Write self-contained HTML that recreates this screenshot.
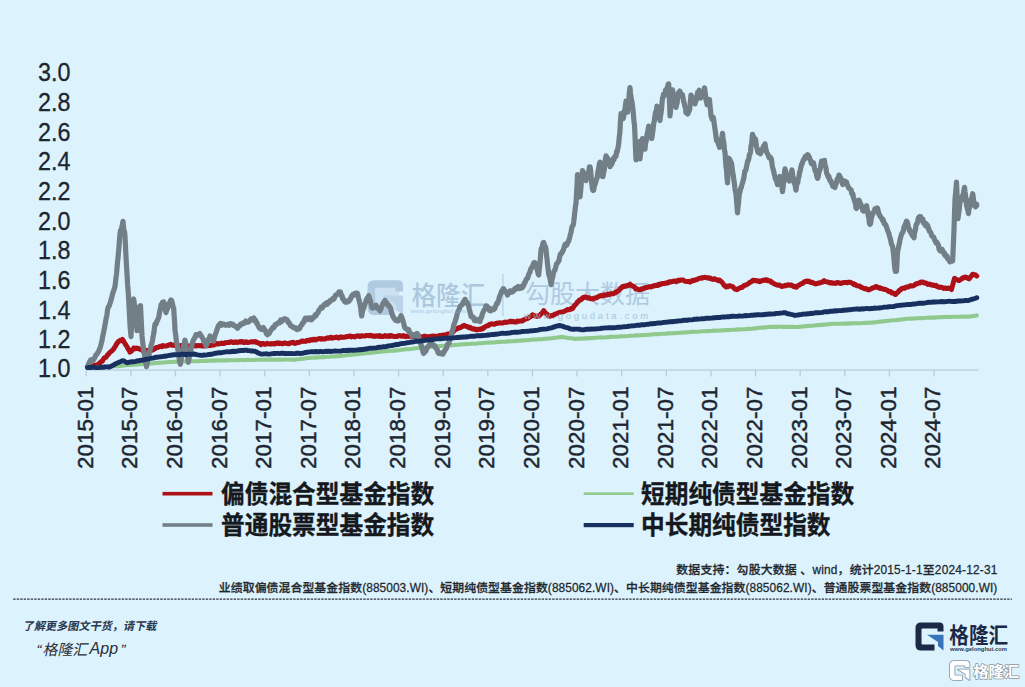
<!DOCTYPE html><html lang="zh"><head><meta charset="utf-8"><title>基金指数走势</title><style>

html,body{margin:0;padding:0}
body{width:1025px;height:687px;position:relative;overflow:hidden;background:#dcf2fd;font-family:"Liberation Sans",sans-serif;color:#1d2530}
#gfx{position:absolute;left:0;top:0;width:1025px;height:687px}
.yl{position:absolute;left:38.0px;width:40px;height:26px;line-height:26px;font-size:25.6px;color:#1d2530;white-space:nowrap;transform-origin:0 50%;transform:scaleX(.91);-webkit-text-stroke:.3px #1d2530}
.xl{position:absolute;top:469.3px;width:100px;height:18px;line-height:18px;font-size:21.6px;color:#1d2530;white-space:nowrap;transform-origin:0 0;transform:rotate(-90deg) scaleX(1.04);-webkit-text-stroke:.45px #1d2530}
.ht{position:absolute;color:transparent;white-space:nowrap;line-height:1.1;overflow:hidden}
.wmt{position:absolute;color:#9fbad3;opacity:.8;white-space:nowrap;line-height:1}
.app{position:absolute;font-size:16px;font-style:italic;color:#2b2f36;line-height:18px;white-space:nowrap}
.url{position:absolute;font-size:5.9px;font-weight:bold;color:#2b3a58;line-height:7px;white-space:nowrap}

</style></head><body>
<svg id="gfx" width="1025" height="687" viewBox="0 0 1025 687">
<g transform="translate(367.5 280.3) scale(1.27 1.24)" opacity="0.8">
<rect x="3" y="3" width="22" height="22" fill="#c9dff0"/>
<path d="M5.5 0 H24 Q28 0 28 4 V9 H22 V6 H7 Q6 6 6 7 V21 Q6 22 7 22 H19 V28 H5.5 Q0 28 0 22.5 V5.5 Q0 0 5.5 0 Z" fill="#a6c1db"/>
<path d="M11.5 12.3 H28 V28 L22.5 23.5 V19.5 Z" fill="#b4cde4"/>
</g>
<text transform="translate(411.5 304.5) scale(1 1.05)" x="0" y="0" font-size="24.6" font-weight="500" fill="#9dbad5" opacity="0.75" font-family="&quot;Liberation Sans&quot;, &quot;Noto Sans CJK SC&quot;, sans-serif">格隆汇</text>
<rect x="502.3" y="274" width="1.2" height="42" fill="#a3bfd8" opacity="0.7"/>
<text x="525" y="302.8" font-size="25" fill="#9dbad5" opacity="0.7" font-family="&quot;Liberation Sans&quot;, &quot;Noto Sans CJK SC&quot;, sans-serif">勾股大数据</text>
<rect x="85.7" y="369.4" width="892.8" height="1.3" fill="#bccdd7"/>
<rect x="85.6" y="370.0" width="1.3" height="6.5" fill="#bccdd7"/>
<rect x="130.2" y="370.0" width="1.3" height="6.5" fill="#bccdd7"/>
<rect x="174.8" y="370.0" width="1.3" height="6.5" fill="#bccdd7"/>
<rect x="219.5" y="370.0" width="1.3" height="6.5" fill="#bccdd7"/>
<rect x="264.1" y="370.0" width="1.3" height="6.5" fill="#bccdd7"/>
<rect x="308.7" y="370.0" width="1.3" height="6.5" fill="#bccdd7"/>
<rect x="353.3" y="370.0" width="1.3" height="6.5" fill="#bccdd7"/>
<rect x="397.9" y="370.0" width="1.3" height="6.5" fill="#bccdd7"/>
<rect x="442.6" y="370.0" width="1.3" height="6.5" fill="#bccdd7"/>
<rect x="487.2" y="370.0" width="1.3" height="6.5" fill="#bccdd7"/>
<rect x="531.8" y="370.0" width="1.3" height="6.5" fill="#bccdd7"/>
<rect x="576.4" y="370.0" width="1.3" height="6.5" fill="#bccdd7"/>
<rect x="621.0" y="370.0" width="1.3" height="6.5" fill="#bccdd7"/>
<rect x="665.7" y="370.0" width="1.3" height="6.5" fill="#bccdd7"/>
<rect x="710.3" y="370.0" width="1.3" height="6.5" fill="#bccdd7"/>
<rect x="754.9" y="370.0" width="1.3" height="6.5" fill="#bccdd7"/>
<rect x="799.5" y="370.0" width="1.3" height="6.5" fill="#bccdd7"/>
<rect x="844.1" y="370.0" width="1.3" height="6.5" fill="#bccdd7"/>
<rect x="888.8" y="370.0" width="1.3" height="6.5" fill="#bccdd7"/>
<rect x="933.4" y="370.0" width="1.3" height="6.5" fill="#bccdd7"/>
<polyline points="87.5,366.6 88.3,367.1 89.2,367.1 90.0,366.4 90.8,366.4 91.7,366.2 92.5,366.3 93.3,366.4 94.2,365.5 95.0,365.1 95.8,365.7 96.7,365.4 97.5,365.6 98.3,364.0 99.2,363.4 100.0,363.0 100.8,361.7 101.7,361.5 102.5,360.9 103.3,359.2 104.2,358.0 105.0,357.6 105.8,357.4 106.7,356.2 107.5,355.0 108.4,354.3 109.3,353.0 110.2,352.2 111.0,351.6 111.9,350.9 112.8,349.8 113.7,348.9 114.5,347.5 115.4,346.3 116.2,344.8 117.0,343.1 117.9,342.5 118.7,341.1 119.5,340.9 120.2,340.2 121.0,340.7 121.7,340.5 122.5,339.5 123.4,340.7 124.2,342.4 125.1,343.7 126.0,345.3 126.8,346.3 127.6,348.0 128.4,349.4 129.2,350.4 130.0,352.1 130.7,351.7 131.5,351.1 132.2,350.1 133.0,349.4 133.7,348.0 134.5,348.1 135.4,348.7 136.2,348.5 137.0,348.1 137.9,348.4 138.7,348.7 139.5,349.2 140.4,349.3 141.2,349.7 142.0,350.1 142.9,350.9 143.7,351.1 144.5,350.9 145.3,351.0 146.1,350.5 146.8,350.3 147.6,351.0 148.4,351.5 149.2,351.3 150.0,351.0 150.8,350.2 151.7,350.0 152.5,350.2 153.3,349.7 154.2,349.0 155.0,348.8 155.8,347.8 156.7,347.4 157.5,347.5 158.4,347.1 159.3,346.7 160.2,346.3 161.1,346.3 162.0,346.7 162.9,345.6 163.8,346.0 164.6,346.1 165.5,346.1 166.4,345.8 167.3,345.7 168.2,345.2 169.1,345.0 170.0,344.7 170.8,344.3 171.7,345.2 172.5,345.3 173.3,345.0 174.2,345.3 175.0,345.5 175.8,345.5 176.7,345.6 177.5,346.0 178.4,346.1 179.3,346.2 180.2,346.0 181.1,345.5 182.0,345.5 182.9,345.5 183.8,345.9 184.6,346.4 185.5,346.5 186.4,346.5 187.3,346.5 188.2,345.9 189.1,346.3 190.0,346.3 190.9,345.7 191.8,345.3 192.6,345.2 193.5,346.0 194.4,345.7 195.2,345.5 196.1,346.0 197.0,345.8 197.9,345.5 198.8,345.4 199.6,345.8 200.5,345.6 201.4,345.6 202.2,346.1 203.1,346.0 204.0,345.8 204.9,345.9 205.8,345.4 206.6,345.7 207.5,345.8 208.4,345.4 209.3,345.1 210.2,345.7 211.1,345.4 212.0,344.8 212.9,344.9 213.8,345.1 214.6,344.2 215.5,343.7 216.4,343.6 217.3,344.1 218.2,343.5 219.1,343.8 220.0,343.7 220.9,343.5 221.8,343.0 222.7,343.6 223.6,343.6 224.5,343.2 225.4,342.6 226.2,342.8 227.1,342.6 228.0,342.6 228.9,342.3 229.8,342.4 230.7,341.8 231.6,341.7 232.5,342.4 233.4,342.5 234.3,342.0 235.2,342.4 236.1,341.9 237.0,342.5 237.9,342.4 238.8,342.1 239.7,341.7 240.6,341.4 241.5,342.2 242.4,341.6 243.3,342.2 244.2,342.6 245.1,342.3 246.0,341.7 246.9,342.3 247.8,342.6 248.7,342.4 249.6,342.2 250.5,341.9 251.4,341.8 252.3,341.6 253.2,342.1 254.1,341.9 255.0,341.6 255.9,341.7 256.7,342.6 257.6,342.6 258.4,343.1 259.3,343.2 260.1,344.0 261.0,344.6 261.9,343.6 262.8,343.5 263.7,343.5 264.6,344.2 265.5,344.2 266.4,343.7 267.3,343.3 268.2,343.7 269.1,343.9 270.0,344.1 270.9,343.5 271.8,343.9 272.7,343.8 273.6,343.5 274.5,344.0 275.4,343.3 276.2,343.6 277.1,343.0 278.0,342.8 278.9,343.6 279.8,343.1 280.7,343.5 281.6,343.5 282.5,343.7 283.4,343.2 284.3,343.0 285.2,342.9 286.1,343.5 287.0,343.4 287.9,343.7 288.8,343.8 289.6,342.9 290.5,343.1 291.4,342.6 292.3,342.4 293.2,342.3 294.1,343.2 295.0,343.4 295.9,343.3 296.8,342.6 297.7,342.6 298.6,342.6 299.5,342.1 300.4,342.0 301.2,341.5 302.1,341.0 303.0,340.9 303.9,341.5 304.8,341.2 305.7,341.4 306.6,340.8 307.5,340.3 308.4,340.6 309.2,340.7 310.1,339.8 311.0,340.2 311.9,339.6 312.8,339.3 313.6,340.0 314.5,339.3 315.4,339.2 316.2,339.9 317.1,339.4 318.0,338.9 318.9,338.7 319.8,338.6 320.6,339.1 321.5,338.5 322.4,339.1 323.2,338.7 324.1,339.1 325.0,339.1 325.9,338.4 326.8,338.1 327.6,338.2 328.5,337.7 329.4,338.1 330.2,337.5 331.1,337.3 332.0,338.2 332.9,337.7 333.8,337.8 334.6,337.6 335.5,337.4 336.4,337.0 337.2,337.7 338.1,338.0 339.0,338.0 339.9,337.1 340.8,336.8 341.6,337.1 342.5,337.5 343.4,337.2 344.2,337.2 345.1,337.1 346.0,336.6 346.9,336.7 347.8,336.5 348.6,336.3 349.5,336.0 350.4,336.1 351.2,336.9 352.1,336.5 353.0,336.6 353.9,336.6 354.8,336.9 355.6,336.3 356.5,336.0 357.4,335.9 358.2,335.8 359.1,336.3 360.0,336.5 360.9,336.0 361.8,335.8 362.7,336.0 363.6,336.1 364.5,336.1 365.4,335.8 366.2,335.4 367.1,335.5 368.0,335.4 368.9,335.8 369.8,335.5 370.7,335.3 371.6,335.9 372.5,335.7 373.4,336.2 374.3,336.1 375.2,336.4 376.1,335.8 377.0,335.9 377.9,336.3 378.8,335.6 379.6,336.4 380.5,335.8 381.4,336.2 382.3,336.6 383.2,336.6 384.1,336.0 385.0,335.6 385.9,335.9 386.7,336.4 387.6,335.9 388.5,336.4 389.3,335.7 390.2,336.4 391.1,335.6 392.0,335.7 392.8,336.3 393.7,336.4 394.6,336.6 395.4,336.6 396.3,336.5 397.2,336.4 398.0,335.8 398.9,335.8 399.8,335.6 400.7,336.1 401.5,336.2 402.4,335.8 403.3,335.5 404.1,336.3 405.0,336.5 405.9,336.3 406.8,336.2 407.6,336.6 408.5,336.3 409.4,336.2 410.3,336.1 411.2,336.1 412.1,335.8 412.9,336.5 413.8,336.5 414.7,336.7 415.6,336.2 416.5,336.4 417.4,336.3 418.2,336.3 419.1,336.5 420.0,337.2 420.9,336.9 421.7,336.8 422.6,336.9 423.5,336.6 424.3,336.1 425.2,336.5 426.1,336.6 427.0,336.8 427.8,336.6 428.7,336.8 429.6,336.8 430.4,336.3 431.3,336.4 432.2,336.3 433.0,336.0 433.9,336.1 434.8,336.3 435.7,336.7 436.5,336.8 437.4,336.1 438.3,336.2 439.1,335.6 440.0,335.4 440.8,335.6 441.7,335.9 442.5,335.1 443.3,335.4 444.2,335.5 445.0,334.7 445.8,334.7 446.7,334.8 447.5,334.1 448.3,334.1 449.2,334.0 450.0,333.7 450.8,333.4 451.7,333.0 452.5,332.5 453.3,331.6 454.2,330.5 455.0,329.8 455.8,329.2 456.7,329.0 457.5,328.8 458.3,327.8 459.2,327.9 460.0,327.8 460.8,327.1 461.7,326.8 462.5,326.1 463.3,326.3 464.2,325.4 465.0,325.9 465.8,326.3 466.7,326.5 467.5,326.4 468.3,327.2 469.2,327.8 470.0,327.3 470.8,328.1 471.7,328.6 472.5,328.8 473.3,329.0 474.2,328.8 475.0,329.4 475.8,329.7 476.7,329.3 477.5,329.7 478.3,329.5 479.2,329.2 480.0,329.4 480.8,328.8 481.7,329.1 482.5,329.0 483.3,327.8 484.2,327.7 485.0,327.1 485.8,326.3 486.7,326.0 487.5,325.5 488.3,325.7 489.2,324.6 490.0,324.2 490.9,324.3 491.8,323.8 492.6,324.1 493.5,324.2 494.4,324.3 495.3,323.6 496.2,323.3 497.1,323.4 497.9,323.0 498.8,323.1 499.7,322.7 500.6,322.9 501.5,323.0 502.4,322.9 503.2,323.0 504.1,322.4 505.0,322.1 505.9,322.4 506.8,322.3 507.6,322.1 508.5,321.8 509.4,321.5 510.2,321.2 511.1,321.8 512.0,321.2 512.9,321.7 513.8,321.6 514.6,322.0 515.5,321.9 516.4,322.0 517.2,321.1 518.1,321.2 519.0,321.3 519.9,321.0 520.8,321.0 521.6,320.9 522.5,321.0 523.3,320.0 524.2,319.8 525.0,319.5 525.8,318.9 526.7,318.5 527.5,318.5 528.3,318.1 529.2,317.4 530.0,317.1 530.8,316.4 531.7,315.6 532.5,314.8 533.4,315.1 534.3,315.6 535.2,316.1 536.0,316.3 536.9,316.0 537.8,316.5 538.7,316.2 539.5,315.6 540.4,314.4 541.2,313.8 542.0,313.3 542.9,311.8 543.7,310.6 544.5,311.9 545.4,312.9 546.2,313.6 547.0,314.1 547.9,315.3 548.7,316.3 549.5,316.0 550.3,316.2 551.1,315.7 551.9,315.5 552.8,315.4 553.6,315.0 554.4,314.3 555.2,314.2 556.0,313.8 556.9,313.5 557.8,313.1 558.7,312.6 559.6,312.4 560.5,312.2 561.4,312.2 562.3,311.9 563.2,311.7 564.1,311.3 565.0,311.0 565.8,310.6 566.7,310.0 567.5,309.6 568.3,309.7 569.2,309.8 570.0,309.4 570.8,308.6 571.7,309.0 572.5,308.6 573.3,307.4 574.2,305.8 575.0,305.1 575.8,304.4 576.7,303.1 577.5,301.8 578.4,301.4 579.3,300.1 580.2,299.7 581.0,299.6 581.9,298.8 582.8,297.7 583.7,297.2 584.6,297.4 585.5,297.1 586.3,297.2 587.2,298.1 588.1,297.8 589.0,297.7 589.9,298.6 590.7,298.7 591.6,298.7 592.5,299.0 593.3,298.9 594.2,298.1 595.0,298.1 595.8,297.9 596.7,297.8 597.5,296.9 598.3,296.8 599.2,296.1 600.0,296.0 600.9,295.5 601.8,295.8 602.6,295.9 603.5,295.3 604.4,294.8 605.3,295.3 606.2,295.1 607.1,295.1 607.9,294.1 608.8,294.6 609.7,294.3 610.6,293.8 611.5,293.6 612.4,293.8 613.2,293.8 614.1,293.0 615.0,293.1 615.8,292.0 616.7,292.1 617.5,291.1 618.3,290.8 619.2,290.1 620.0,289.3 620.8,288.2 621.7,287.6 622.5,286.6 623.3,286.2 624.2,286.5 625.0,286.1 625.8,286.2 626.7,285.5 627.5,285.6 628.3,285.5 629.2,284.8 630.0,284.2 630.8,285.0 631.7,285.7 632.5,285.9 633.3,286.4 634.2,286.8 635.0,287.9 635.8,289.0 636.7,289.0 637.5,289.1 638.4,289.5 639.3,289.7 640.2,289.8 641.1,289.3 642.0,288.7 642.9,288.9 643.8,288.1 644.6,288.3 645.5,287.6 646.4,287.5 647.3,287.5 648.2,287.2 649.1,286.8 650.0,286.6 650.9,286.9 651.8,286.5 652.7,286.3 653.6,285.7 654.5,285.9 655.4,285.4 656.2,285.3 657.1,285.5 658.0,285.5 658.9,284.2 659.8,284.5 660.7,284.5 661.6,283.7 662.5,283.4 663.4,283.4 664.2,283.7 665.1,283.1 666.0,283.3 666.9,283.2 667.8,282.4 668.6,282.8 669.5,281.9 670.4,281.6 671.2,282.0 672.1,281.4 673.0,281.4 673.9,281.0 674.8,281.2 675.6,281.5 676.5,281.7 677.4,280.6 678.2,280.2 679.1,280.8 680.0,280.1 680.8,280.2 681.7,280.1 682.5,280.1 683.3,280.1 684.2,280.8 685.0,281.2 685.8,281.4 686.7,281.6 687.5,281.6 688.3,281.3 689.2,281.6 690.0,282.1 690.9,281.6 691.8,280.8 692.6,280.2 693.5,280.7 694.4,280.4 695.3,279.8 696.2,279.7 697.1,279.5 697.9,279.2 698.8,278.4 699.7,278.3 700.6,278.1 701.5,277.7 702.4,278.1 703.2,277.5 704.1,277.4 705.0,277.3 705.9,277.6 706.8,277.8 707.6,278.0 708.5,277.7 709.4,278.5 710.3,278.0 711.2,278.8 712.1,279.2 712.9,279.4 713.8,278.8 714.7,278.7 715.6,279.6 716.5,279.7 717.4,279.7 718.2,280.6 719.1,280.0 720.0,280.4 720.9,281.3 721.7,281.9 722.6,283.0 723.4,284.3 724.3,285.6 725.1,285.7 726.0,286.9 726.8,286.3 727.7,286.8 728.5,286.1 729.3,285.7 730.2,285.8 731.0,286.1 731.9,286.4 732.7,286.6 733.6,287.7 734.4,288.5 735.3,289.2 736.1,289.1 737.0,289.6 737.8,288.9 738.7,288.7 739.5,288.1 740.4,287.6 741.2,287.6 742.0,287.5 742.9,286.8 743.7,285.7 744.6,285.5 745.5,284.9 746.3,284.9 747.2,284.2 748.1,283.8 749.0,283.1 749.9,282.3 750.7,282.1 751.6,281.6 752.5,280.5 753.3,280.2 754.2,280.4 755.0,280.8 755.8,280.5 756.7,280.7 757.5,281.1 758.3,280.8 759.2,281.6 760.0,281.7 760.9,281.1 761.7,280.7 762.6,280.5 763.4,280.2 764.3,280.4 765.1,280.0 766.0,279.8 766.9,279.7 767.8,280.8 768.7,280.8 769.6,281.0 770.5,281.0 771.4,282.3 772.3,282.5 773.2,283.2 774.1,283.8 775.0,284.2 775.8,284.4 776.6,284.8 777.4,285.1 778.2,285.3 779.1,284.9 779.9,285.3 780.7,285.8 781.5,286.6 782.3,286.4 783.2,286.1 784.0,286.0 784.8,285.4 785.7,285.8 786.5,285.5 787.3,285.0 788.2,284.8 789.0,285.2 789.8,285.2 790.7,284.9 791.5,285.0 792.3,285.8 793.2,286.1 794.0,286.7 794.8,286.3 795.7,286.6 796.5,287.2 797.3,286.1 798.2,285.4 799.0,285.3 799.8,284.7 800.7,284.0 801.5,283.5 802.3,283.5 803.2,283.0 804.0,282.0 804.8,281.4 805.7,281.7 806.5,281.2 807.3,280.9 808.2,281.7 809.0,281.2 809.8,281.5 810.7,282.3 811.5,282.6 812.3,282.3 813.2,283.1 814.0,283.1 814.8,283.6 815.7,283.9 816.5,283.6 817.3,283.5 818.2,283.1 819.0,283.2 819.8,282.9 820.7,282.5 821.5,282.3 822.3,282.3 823.2,281.3 824.0,280.7 824.8,281.4 825.7,281.8 826.5,281.8 827.3,281.9 828.2,281.9 829.0,282.6 829.8,282.9 830.7,282.9 831.5,282.5 832.3,283.3 833.2,283.3 834.0,283.2 834.9,283.1 835.8,283.4 836.6,282.7 837.5,282.6 838.4,282.6 839.3,283.2 840.2,283.3 841.1,283.4 841.9,283.0 842.8,282.8 843.7,282.6 844.6,282.5 845.5,282.4 846.4,282.6 847.2,282.8 848.1,282.2 849.0,282.2 849.8,282.2 850.7,282.4 851.5,282.9 852.3,283.4 853.2,283.7 854.0,284.6 854.8,284.2 855.7,284.8 856.5,285.6 857.3,285.8 858.2,285.9 859.0,285.9 859.8,286.2 860.7,287.1 861.5,287.5 862.3,287.6 863.2,288.1 864.0,288.5 864.8,288.8 865.7,288.6 866.5,288.8 867.3,289.4 868.2,289.4 869.0,290.0 869.8,289.5 870.7,288.9 871.5,288.7 872.3,288.0 873.2,287.9 874.0,287.7 874.8,287.0 875.7,286.7 876.5,286.5 877.3,287.5 878.2,287.6 879.0,287.5 879.8,288.4 880.7,288.0 881.5,288.3 882.3,288.8 883.2,289.1 884.0,289.1 884.8,289.6 885.7,289.6 886.5,290.0 887.4,290.3 888.2,291.2 889.0,291.6 889.9,291.4 890.8,291.7 891.6,293.0 892.5,293.0 893.3,293.1 894.1,293.7 895.0,294.5 895.8,294.4 896.6,293.2 897.4,292.6 898.2,292.1 899.1,290.5 899.9,290.1 900.7,289.8 901.5,288.7 902.3,288.4 903.2,288.0 904.0,288.3 904.8,288.3 905.7,287.3 906.5,287.2 907.3,286.9 908.2,287.0 909.0,286.3 909.8,286.0 910.7,285.8 911.5,285.8 912.3,285.9 913.2,285.8 914.0,285.5 914.8,285.0 915.7,284.0 916.5,283.8 917.3,283.8 918.2,283.1 919.0,282.9 919.8,283.1 920.7,282.1 921.5,282.3 922.3,281.9 923.2,282.2 924.0,283.0 924.8,282.7 925.7,283.1 926.5,283.2 927.3,284.0 928.2,284.5 929.0,284.0 929.8,284.2 930.7,284.9 931.5,284.9 932.4,284.7 933.3,285.4 934.2,285.3 935.1,285.6 936.0,285.3 936.9,286.5 937.8,286.6 938.6,287.2 939.5,287.5 940.4,287.1 941.3,287.3 942.2,287.5 943.1,288.0 944.0,288.5 944.8,288.0 945.7,287.9 946.5,288.5 947.3,288.4 948.2,288.1 949.0,288.2 949.8,288.7 950.7,289.0 951.5,289.5 952.2,286.6 953.0,283.9 953.8,280.8 954.5,278.3 955.4,278.7 956.3,279.6 957.2,279.8 958.1,280.1 959.0,280.7 959.8,280.2 960.7,279.4 961.5,279.0 962.3,278.0 963.2,278.0 964.0,277.3 964.8,277.4 965.7,277.1 966.5,277.4 967.3,278.1 968.2,278.4 969.0,278.9 969.7,278.3 970.5,277.0 971.2,276.2 972.0,275.3 972.7,274.2 973.5,274.4 974.4,274.7 975.2,274.7 976.0,275.4 976.8,276.0" fill="none" stroke="#ae1017" stroke-width="5.0" stroke-linejoin="round" stroke-linecap="round"/>
<polyline points="87.5,368.0 89.4,367.9 91.3,367.6 93.2,367.4 95.1,367.5 97.1,367.4 99.0,367.3 100.9,367.1 102.8,367.0 104.7,366.9 106.6,366.8 108.5,366.5 110.4,366.4 112.4,366.3 114.3,366.3 116.2,366.3 118.1,366.2 120.0,366.0 122.0,365.7 124.0,365.5 126.0,365.3 128.0,365.1 130.0,365.0 132.0,364.9 134.0,364.7 136.0,364.7 138.0,364.5 140.0,364.3 142.0,364.1 144.0,363.8 146.0,363.7 148.0,363.5 150.0,363.5 152.0,363.4 154.0,363.3 156.0,363.0 158.0,362.9 160.0,362.8 162.0,362.6 164.0,362.5 166.0,362.3 168.0,362.2 170.0,361.9 172.0,362.0 174.0,361.9 176.0,361.7 178.0,361.7 180.0,361.7 182.0,361.6 184.0,361.5 186.0,361.4 188.0,361.5 190.0,361.3 192.0,361.3 194.0,361.2 196.0,361.2 198.0,361.2 200.0,361.0 202.0,361.0 204.0,361.0 206.0,360.9 208.0,360.8 210.0,360.6 212.0,360.6 214.0,360.6 216.0,360.4 218.0,360.5 220.0,360.4 222.0,360.5 224.0,360.3 226.0,360.4 228.0,360.4 230.0,360.3 232.0,360.2 234.0,360.2 236.0,360.2 238.0,360.1 240.0,360.0 242.0,360.0 244.0,360.1 246.0,360.0 248.0,359.9 250.0,360.0 252.0,360.0 254.0,360.0 256.0,359.8 258.0,359.8 260.0,359.7 262.0,359.7 264.0,359.6 266.0,359.6 268.0,359.7 270.0,359.5 271.9,359.6 273.8,359.7 275.8,359.6 277.7,359.5 279.6,359.7 281.5,359.6 283.5,359.7 285.4,359.5 287.3,359.5 289.2,359.5 291.2,359.6 293.1,359.5 295.0,359.7 296.9,359.3 298.8,359.2 300.6,358.9 302.5,358.7 304.4,358.6 306.2,358.3 308.1,358.0 310.0,357.9 311.9,357.8 313.8,357.6 315.8,357.6 317.7,357.4 319.6,357.2 321.5,357.1 323.5,357.1 325.4,357.0 327.3,356.8 329.2,356.7 331.2,356.5 333.1,356.5 335.0,356.4 336.9,356.3 338.8,356.1 340.8,355.9 342.7,355.8 344.6,355.5 346.5,355.3 348.5,355.0 350.4,354.9 352.3,354.6 354.2,354.4 356.2,354.2 358.1,354.2 360.0,353.8 361.9,353.7 363.8,353.5 365.8,353.3 367.7,353.0 369.6,353.0 371.5,352.7 373.5,352.6 375.4,352.3 377.3,352.0 379.2,351.9 381.2,351.7 383.1,351.5 385.0,351.2 386.9,351.1 388.8,350.9 390.8,350.8 392.7,350.6 394.6,350.6 396.5,350.4 398.5,350.2 400.4,349.9 402.3,349.7 404.2,349.4 406.2,349.3 408.1,349.1 410.0,349.0 411.9,348.8 413.8,348.5 415.8,348.3 417.7,348.1 419.6,347.8 421.5,347.6 423.5,347.5 425.4,347.2 427.3,347.2 429.2,346.9 431.2,346.7 433.1,346.5 435.0,346.3 436.9,346.2 438.8,346.1 440.8,346.0 442.7,345.8 444.6,345.7 446.5,345.5 448.5,345.5 450.4,345.4 452.3,345.3 454.2,345.0 456.2,344.9 458.1,344.8 460.0,344.5 461.9,344.4 463.8,344.3 465.8,344.1 467.7,344.0 469.6,344.0 471.5,343.8 473.5,343.7 475.4,343.7 477.3,343.5 479.2,343.3 481.2,343.3 483.1,343.0 485.0,342.8 486.9,342.8 488.8,342.6 490.8,342.5 492.7,342.5 494.6,342.4 496.5,342.1 498.5,342.0 500.4,341.9 502.3,341.8 504.2,341.7 506.2,341.6 508.1,341.4 510.0,341.3 511.9,341.2 513.8,341.2 515.8,340.9 517.7,340.9 519.6,340.6 521.5,340.6 523.5,340.4 525.4,340.3 527.3,340.2 529.2,340.0 531.2,339.8 533.1,339.6 535.0,339.5 536.9,339.5 538.8,339.3 540.6,339.3 542.5,339.1 544.4,338.8 546.2,338.7 548.1,338.6 550.0,338.5 551.8,338.2 553.6,337.9 555.4,337.7 557.1,337.6 558.9,337.3 560.7,337.1 562.5,336.9 564.3,337.3 566.1,337.6 567.9,337.9 569.6,338.2 571.4,338.3 573.2,338.5 575.0,338.9 577.0,338.7 578.9,338.6 580.9,338.6 582.9,338.6 584.9,338.4 586.8,338.4 588.8,338.1 590.8,338.0 592.8,338.1 594.7,337.8 596.7,337.7 598.7,337.5 600.7,337.4 602.6,337.5 604.6,337.5 606.6,337.3 608.6,337.1 610.5,336.9 612.5,336.8 614.5,336.8 616.4,336.7 618.4,336.5 620.4,336.4 622.4,336.2 624.3,336.2 626.3,336.2 628.3,336.0 630.3,335.7 632.2,335.7 634.2,335.6 636.2,335.4 638.2,335.4 640.1,335.2 642.1,335.1 644.1,335.0 646.1,335.0 648.0,334.8 650.0,334.7 652.0,334.4 654.0,334.3 656.0,334.1 658.0,334.1 660.0,334.0 662.0,333.8 664.0,333.7 666.0,333.6 668.0,333.4 670.0,333.4 672.0,333.3 674.0,333.2 676.0,333.0 678.0,332.9 680.0,332.7 682.0,332.6 684.0,332.5 686.0,332.4 688.0,332.3 690.0,332.0 692.0,331.9 694.0,331.8 696.0,331.7 698.0,331.7 700.0,331.5 702.0,331.2 704.0,331.2 706.0,331.1 708.0,331.1 710.0,331.0 712.0,330.9 714.0,330.6 716.0,330.7 718.0,330.6 720.0,330.5 722.0,330.4 724.0,330.3 726.0,330.1 728.0,330.1 730.0,330.0 732.0,329.8 734.0,329.7 736.0,329.6 738.0,329.4 740.0,329.5 742.0,329.2 744.0,329.2 746.0,329.1 748.0,328.9 750.0,328.9 751.9,328.7 753.8,328.4 755.7,328.4 757.6,328.0 759.5,327.8 761.4,327.6 763.3,327.6 765.2,327.4 767.1,327.2 769.0,326.9 771.0,327.0 773.0,326.9 775.0,326.8 777.0,326.9 779.0,326.8 781.0,326.8 783.0,326.9 785.0,326.8 787.0,326.9 789.0,327.0 791.0,326.9 793.0,326.9 795.0,327.0 797.0,327.0 799.0,326.9 800.9,326.6 802.8,326.5 804.7,326.3 806.6,326.1 808.6,325.9 810.5,325.8 812.4,325.8 814.3,325.5 816.2,325.3 818.1,325.1 820.0,324.9 821.9,324.9 823.9,324.6 825.8,324.5 827.7,324.3 829.6,324.1 831.5,324.0 833.5,323.8 835.4,323.8 837.4,323.7 839.4,323.7 841.4,323.7 843.3,323.6 845.3,323.5 847.3,323.6 849.3,323.4 851.2,323.4 853.2,323.3 855.2,323.3 857.2,323.3 859.1,323.3 861.1,323.2 863.1,323.0 865.1,322.9 867.0,322.9 869.0,322.8 871.0,322.6 872.9,322.6 874.9,322.2 876.9,322.1 878.9,321.8 880.8,321.6 882.8,321.4 884.8,321.1 886.8,321.0 888.7,320.7 890.7,320.5 892.7,320.3 894.7,320.2 896.6,320.1 898.6,319.8 900.6,319.6 902.6,319.4 904.5,319.1 906.5,318.8 908.5,318.7 910.4,318.6 912.4,318.6 914.4,318.5 916.4,318.3 918.3,318.3 920.3,318.1 922.3,318.1 924.3,318.0 926.2,317.8 928.2,317.8 930.2,317.6 932.2,317.6 934.1,317.6 936.1,317.4 938.1,317.3 940.1,317.2 942.0,317.1 944.0,317.0 945.9,317.0 947.8,317.0 949.8,316.9 951.7,317.0 953.6,316.8 955.5,316.8 957.5,316.8 959.4,316.7 961.3,316.7 963.2,316.6 965.2,316.7 967.1,316.6 969.0,316.6 970.7,316.5 972.5,316.1 974.2,316.0 976.0,315.6 976.8,315.4" fill="none" stroke="#8fc98e" stroke-width="4.1" stroke-linejoin="round" stroke-linecap="round"/>
<polyline points="87.5,366.5 88.0,365.6 88.5,364.2 89.0,363.2 89.5,362.1 90.1,360.9 90.6,360.1 91.2,361.0 91.8,360.1 92.4,359.5 92.9,360.4 93.5,359.6 94.1,359.0 94.7,357.6 95.3,356.7 95.9,354.9 96.5,354.5 97.1,354.1 97.7,352.7 98.3,351.9 98.9,350.9 99.5,348.8 100.0,348.2 100.5,346.7 101.0,344.6 101.5,342.4 102.0,340.8 102.5,337.5 103.0,334.9 103.5,332.8 104.0,330.2 104.5,328.1 105.0,324.6 105.5,322.3 106.0,318.9 106.5,317.0 107.0,314.4 107.5,309.9 108.1,307.7 108.7,306.1 109.2,306.1 109.8,303.8 110.4,302.4 111.0,300.0 111.6,298.1 112.1,295.8 112.7,293.5 113.3,291.9 113.9,289.9 114.4,288.6 115.0,286.3 115.5,282.3 116.0,277.8 116.5,273.7 117.0,268.5 117.5,262.3 118.0,257.7 118.5,252.6 119.0,246.7 119.5,239.7 120.0,233.9 120.6,230.3 121.2,229.8 121.8,227.4 122.4,224.4 123.0,221.3 123.5,226.6 124.0,230.9 124.5,231.6 125.0,236.1 125.5,246.6 126.0,256.9 126.5,265.5 127.1,275.3 127.6,284.5 128.2,291.2 128.7,300.4 129.1,307.7 129.6,317.2 130.0,325.1 130.5,331.1 131.0,336.6 131.5,326.7 132.0,318.3 132.5,307.9 133.1,302.5 133.7,299.0 134.1,302.0 134.6,306.1 135.1,310.7 135.5,315.4 136.0,319.7 136.5,324.2 137.0,330.7 137.6,322.6 138.1,316.3 138.7,309.1 139.1,307.4 139.6,306.6 140.1,306.1 140.5,305.7 141.0,315.7 141.5,325.6 142.0,335.7 142.6,341.4 143.1,345.8 143.7,350.4 144.3,354.0 144.8,356.5 145.4,359.5 145.9,363.8 146.5,366.7 147.1,363.9 147.7,360.3 148.2,358.0 148.8,355.7 149.4,352.2 150.0,350.3 150.5,348.6 151.0,345.7 151.5,344.4 152.0,342.3 152.5,340.7 153.0,337.2 153.5,334.8 154.0,332.0 154.5,327.6 155.0,324.2 155.5,324.3 156.1,324.2 156.6,322.0 157.1,321.0 157.6,320.2 158.2,318.6 158.7,317.5 159.3,314.2 159.8,311.2 160.4,308.6 161.0,305.0 161.5,304.2 162.1,304.3 162.6,302.1 163.2,302.0 163.7,301.9 164.3,304.0 164.8,306.4 165.4,310.5 166.0,312.5 166.5,310.5 167.1,309.5 167.6,308.7 168.2,306.1 168.7,304.7 169.3,303.2 169.8,302.8 170.4,300.7 171.0,300.0 171.5,300.4 172.1,302.1 172.6,304.5 173.2,307.1 173.7,308.1 174.1,314.9 174.6,321.9 175.0,330.1 175.5,333.2 176.0,337.8 176.5,341.7 177.0,344.1 177.5,347.4 178.1,351.7 178.6,355.1 179.2,358.8 179.7,361.5 180.3,364.3 180.9,360.7 181.4,358.0 181.9,353.7 182.5,350.0 183.0,348.1 183.5,346.1 184.0,344.1 184.5,343.1 185.0,340.0 185.6,342.8 186.1,347.8 186.7,351.7 187.2,355.6 187.8,358.2 188.3,362.3 188.9,359.8 189.4,355.9 190.0,353.8 190.5,352.1 191.0,349.8 191.5,347.3 192.0,344.7 192.5,342.5 193.1,341.0 193.7,339.3 194.2,338.9 194.8,337.4 195.4,337.1 196.0,334.6 196.5,335.4 197.1,335.0 197.6,335.0 198.2,334.6 198.7,334.1 199.2,334.2 199.8,333.6 200.3,335.3 200.9,335.2 201.4,335.9 202.0,337.3 202.5,338.0 203.1,339.0 203.7,341.2 204.2,342.1 204.8,342.8 205.4,343.6 206.0,345.9 206.6,344.2 207.1,343.4 207.7,341.5 208.3,339.6 208.9,338.8 209.4,338.3 210.0,335.9 210.5,337.4 211.1,338.5 211.6,339.1 212.1,339.7 212.6,338.6 213.2,339.9 213.7,341.1 214.2,338.0 214.8,336.2 215.3,334.3 215.9,333.1 216.4,331.2 217.0,329.6 217.5,328.4 218.1,326.4 218.7,325.4 219.2,324.8 219.8,324.1 220.4,323.4 221.0,324.6 221.6,325.2 222.2,323.8 222.8,324.3 223.4,324.1 224.0,324.1 224.5,324.3 225.1,325.1 225.7,325.3 226.3,324.9 226.9,324.6 227.5,324.8 228.1,324.2 228.6,324.9 229.2,325.3 229.7,324.7 230.3,323.7 230.8,323.5 231.4,323.8 231.9,324.2 232.5,324.7 233.1,324.5 233.6,325.6 234.2,325.8 234.7,325.8 235.3,326.0 235.8,326.5 236.4,327.4 236.9,327.4 237.5,328.3 238.1,327.4 238.6,326.3 239.2,326.1 239.7,326.1 240.3,324.3 240.8,324.1 241.4,323.7 241.9,324.2 242.5,324.1 243.1,322.9 243.6,323.5 244.2,323.3 244.7,322.1 245.3,321.9 245.8,321.0 246.4,322.1 246.9,322.0 247.5,322.4 248.1,322.2 248.6,321.7 249.2,321.5 249.8,321.0 250.3,319.6 250.9,320.1 251.4,318.8 252.0,318.6 252.6,319.7 253.1,318.4 253.7,317.9 254.2,318.5 254.8,320.9 255.3,320.7 255.9,320.7 256.4,323.0 257.0,322.7 257.5,324.6 258.1,325.5 258.7,326.7 259.2,327.9 259.8,328.0 260.4,329.1 261.0,328.4 261.5,329.2 262.1,328.8 262.6,328.9 263.2,327.5 263.7,328.2 264.2,330.0 264.8,329.5 265.3,330.6 265.9,332.1 266.4,333.9 267.0,334.0 267.5,334.7 268.1,333.8 268.7,333.7 269.2,333.4 269.8,332.0 270.4,330.9 271.0,330.1 271.6,329.3 272.1,328.7 272.7,327.3 273.2,327.3 273.8,327.8 274.3,326.3 274.9,326.1 275.4,324.3 276.0,324.3 276.6,324.3 277.2,323.9 277.8,323.2 278.4,322.6 279.0,322.5 279.6,322.8 280.1,321.0 280.7,320.0 281.3,320.8 281.9,321.2 282.5,320.2 283.1,319.5 283.7,319.6 284.2,318.8 284.8,318.8 285.3,318.8 285.9,319.7 286.4,319.6 287.0,319.5 287.5,320.6 288.1,322.3 288.6,322.0 289.2,323.3 289.7,323.7 290.3,325.3 290.8,325.8 291.4,325.9 291.9,326.4 292.5,326.7 293.1,327.5 293.6,327.7 294.2,327.4 294.8,327.8 295.3,327.9 295.9,328.9 296.4,328.1 297.0,329.6 297.6,329.1 298.1,329.3 298.7,329.1 299.2,328.9 299.8,328.2 300.3,326.9 300.9,325.7 301.4,325.2 302.0,324.7 302.5,323.0 303.1,322.6 303.7,322.4 304.2,320.7 304.8,319.1 305.4,318.0 306.0,318.1 306.6,318.5 307.1,319.3 307.7,319.5 308.2,318.3 308.8,317.8 309.3,317.9 309.9,317.9 310.4,319.1 311.0,319.9 311.6,319.9 312.1,318.1 312.7,318.6 313.2,317.3 313.8,316.8 314.3,317.1 314.9,315.5 315.4,314.6 316.0,315.7 316.6,314.2 317.1,313.3 317.7,312.9 318.2,312.5 318.8,310.3 319.3,309.7 319.9,309.2 320.4,308.6 321.0,307.2 321.6,307.4 322.2,308.0 322.8,306.6 323.4,306.2 324.0,304.8 324.5,304.4 325.1,304.8 325.7,303.4 326.3,304.4 326.9,304.5 327.5,302.4 328.1,303.3 328.6,302.0 329.2,302.2 329.8,301.9 330.3,300.4 330.9,300.5 331.4,300.2 332.0,300.2 332.6,298.6 333.1,298.9 333.7,299.2 334.3,298.2 334.8,297.1 335.4,295.3 336.0,295.2 336.6,294.5 337.1,294.7 337.7,294.3 338.3,293.5 338.9,291.9 339.4,292.1 340.0,291.8 340.5,292.0 341.1,294.7 341.6,295.9 342.1,295.8 342.6,298.6 343.2,298.5 343.7,299.8 344.2,301.1 344.8,301.5 345.3,301.7 345.9,302.3 346.4,302.2 347.0,302.1 347.5,302.0 348.1,300.7 348.6,301.3 349.2,301.0 349.7,299.9 350.3,299.4 350.8,297.8 351.4,296.5 351.9,295.7 352.5,296.1 353.1,294.3 353.6,294.6 354.2,293.8 354.7,294.7 355.3,293.8 355.8,293.2 356.4,293.0 356.9,293.1 357.5,293.6 358.0,295.3 358.5,298.7 359.0,299.7 359.5,302.1 360.0,304.2 360.6,307.4 361.1,312.2 361.7,316.0 362.2,312.8 362.8,310.3 363.4,308.6 363.9,307.5 364.4,305.9 365.0,303.8 365.5,302.5 366.1,300.4 366.6,299.6 367.1,298.3 367.6,298.0 368.2,297.4 368.7,295.7 369.2,297.2 369.8,300.1 370.3,300.3 370.9,303.3 371.4,305.7 372.0,307.7 372.5,308.1 373.1,307.7 373.7,307.3 374.2,307.1 374.8,307.5 375.4,306.7 376.0,305.2 376.6,306.9 377.1,307.1 377.7,307.9 378.3,308.9 378.9,308.1 379.4,310.0 380.0,310.9 380.6,309.4 381.1,308.3 381.7,307.0 382.2,305.2 382.8,304.7 383.3,302.6 383.9,302.2 384.4,301.7 385.0,300.3 385.6,301.4 386.1,303.2 386.7,304.2 387.2,303.3 387.8,305.1 388.3,305.9 388.9,305.4 389.4,306.4 390.0,307.1 390.5,308.1 391.1,310.4 391.6,313.0 392.1,313.5 392.6,315.8 393.2,317.2 393.7,317.3 394.2,318.8 394.8,319.0 395.3,320.1 395.9,320.2 396.4,320.5 397.0,320.0 397.5,321.0 398.1,320.9 398.7,320.3 399.2,318.7 399.8,318.4 400.4,317.3 401.0,315.6 401.6,316.8 402.1,318.3 402.7,320.2 403.3,321.9 403.9,324.2 404.4,326.5 405.0,328.1 405.5,328.2 406.1,328.9 406.6,328.7 407.1,329.1 407.6,330.2 408.2,330.0 408.7,329.7 409.2,331.8 409.8,332.8 410.3,332.9 410.9,333.6 411.4,334.6 412.0,335.7 412.5,335.9 413.1,335.0 413.6,334.9 414.2,335.9 414.7,334.7 415.3,334.8 415.8,334.2 416.4,333.8 416.9,333.4 417.5,333.6 418.1,335.1 418.7,336.6 419.2,338.6 419.8,340.6 420.4,343.1 421.0,344.4 421.5,345.9 422.1,348.4 422.6,350.3 423.2,352.6 423.7,353.4 424.2,352.8 424.8,352.0 425.3,350.5 425.9,351.1 426.4,349.3 427.0,347.9 427.5,347.5 428.1,346.3 428.7,346.2 429.2,345.1 429.8,343.7 430.4,342.6 431.0,342.9 431.6,343.0 432.1,344.3 432.7,344.5 433.3,345.7 433.9,345.3 434.4,345.4 435.0,345.8 435.5,347.7 436.1,348.6 436.6,349.0 437.1,349.3 437.6,351.1 438.2,352.8 438.7,353.4 439.2,352.6 439.8,352.6 440.4,353.0 440.9,353.6 441.4,353.8 442.0,354.2 442.6,354.2 443.1,353.9 443.7,351.9 444.3,351.9 444.9,350.3 445.4,349.6 446.0,348.9 446.6,348.0 447.1,345.3 447.7,344.2 448.3,343.6 448.9,343.4 449.4,341.0 450.0,339.8 450.5,338.7 451.1,335.5 451.6,333.5 452.1,331.3 452.6,329.9 453.2,328.5 453.7,325.1 454.2,324.0 454.8,322.5 455.3,321.0 455.9,318.7 456.4,317.6 457.0,314.8 457.5,312.7 458.1,311.0 458.7,310.8 459.2,309.2 459.8,307.4 460.4,305.7 461.0,305.6 461.6,305.0 462.1,304.6 462.7,303.2 463.3,302.5 463.9,301.0 464.4,301.3 465.0,299.3 465.5,300.7 466.1,302.3 466.6,303.1 467.1,302.5 467.6,303.1 468.2,305.2 468.7,305.9 469.3,309.0 469.9,311.6 470.4,313.2 471.0,316.4 471.6,317.0 472.1,316.8 472.7,317.2 473.3,317.2 473.9,318.4 474.4,320.5 475.0,319.8 475.6,320.5 476.1,319.8 476.7,319.5 477.2,320.7 477.8,320.4 478.3,319.9 478.9,320.0 479.4,321.2 480.0,321.6 480.5,318.8 481.1,317.3 481.6,317.4 482.1,314.7 482.6,313.6 483.2,311.8 483.7,311.0 484.3,309.8 484.9,309.2 485.4,307.8 486.0,305.8 486.6,306.0 487.1,306.2 487.7,308.4 488.3,307.9 488.9,307.9 489.4,310.4 490.0,309.9 490.5,310.9 491.1,309.3 491.6,309.5 492.1,308.9 492.6,310.0 493.2,309.7 493.7,309.6 494.2,309.0 494.8,308.5 495.3,306.5 495.9,305.8 496.4,304.6 497.0,302.9 497.5,303.4 498.1,301.6 498.7,300.5 499.2,297.5 499.8,296.2 500.4,294.5 501.0,293.4 501.5,291.3 502.1,290.7 502.6,290.3 503.2,288.7 503.7,288.8 504.2,290.3 504.8,290.5 505.3,291.6 505.9,292.3 506.4,292.1 507.0,292.8 507.5,295.1 508.1,293.6 508.6,293.1 509.2,291.8 509.7,291.4 510.3,290.8 510.8,292.3 511.4,292.0 511.9,292.0 512.5,292.0 513.1,290.8 513.6,290.9 514.2,289.6 514.7,288.6 515.3,289.3 515.8,289.2 516.4,288.9 516.9,287.4 517.5,287.3 518.1,286.6 518.6,288.0 519.2,288.4 519.7,287.1 520.3,288.3 520.8,287.0 521.4,286.4 521.9,287.9 522.5,287.4 523.1,286.5 523.7,285.7 524.2,283.1 524.8,283.2 525.4,281.2 526.0,280.1 526.6,278.8 527.1,278.7 527.7,278.0 528.3,275.8 528.9,273.9 529.4,273.0 530.0,272.3 530.5,269.9 531.1,268.2 531.6,268.2 532.1,267.0 532.6,266.2 533.2,264.9 533.7,263.1 534.3,262.6 534.9,262.5 535.4,263.6 536.0,265.0 536.5,267.3 537.1,269.5 537.6,271.1 538.2,274.2 538.7,275.1 539.3,268.9 539.9,263.9 540.4,257.9 541.0,250.2 541.5,248.1 542.1,248.0 542.6,244.6 543.2,242.8 543.7,242.4 544.3,244.7 544.9,245.6 545.4,246.8 546.0,248.9 546.5,255.2 547.1,259.4 547.6,265.2 548.2,269.7 548.7,274.6 549.3,275.4 549.9,278.1 550.4,280.6 551.0,284.7 551.5,282.2 552.1,279.0 552.6,277.5 553.2,274.2 553.7,272.0 554.2,270.5 554.8,270.5 555.3,268.6 555.9,266.5 556.4,264.2 557.0,263.6 557.5,263.0 558.1,261.9 558.7,261.1 559.2,259.5 559.8,256.3 560.4,253.8 561.0,253.8 561.6,253.4 562.1,251.8 562.7,251.5 563.3,249.9 563.9,247.9 564.4,246.2 565.0,244.5 565.6,245.2 566.2,245.5 566.8,245.0 567.4,242.9 568.0,242.1 568.6,241.2 569.2,239.3 569.8,236.9 570.4,234.2 571.0,232.5 571.5,229.2 572.1,226.6 572.6,225.9 573.2,225.2 573.7,222.1 574.3,216.6 574.9,211.4 575.4,206.8 576.0,203.3 576.5,193.6 577.0,186.2 577.5,174.7 578.0,178.5 578.5,183.2 579.0,187.0 579.5,192.5 580.0,197.0 580.5,192.5 581.0,186.6 581.5,179.0 582.0,175.2 582.5,170.5 583.1,172.1 583.7,172.9 584.2,175.9 584.8,178.8 585.4,177.8 586.0,180.7 586.6,177.9 587.1,176.0 587.7,175.5 588.3,174.1 588.9,171.0 589.4,166.8 590.0,166.8 590.5,169.7 591.0,174.7 591.5,181.4 592.0,185.1 592.5,189.4 593.1,190.5 593.7,190.0 594.2,186.7 594.8,185.0 595.4,183.2 596.0,181.2 596.6,178.5 597.1,178.5 597.7,173.2 598.3,170.0 598.9,166.9 599.4,163.5 600.0,162.2 600.6,166.6 601.2,170.5 601.8,173.0 602.4,176.5 603.0,176.6 603.6,172.3 604.2,170.6 604.8,163.8 605.4,159.3 606.0,155.9 606.6,156.6 607.1,158.8 607.7,158.4 608.3,159.8 608.9,164.0 609.4,163.1 610.0,166.6 610.6,163.7 611.1,165.4 611.7,164.2 612.2,163.1 612.8,160.2 613.3,158.3 613.9,159.9 614.4,157.5 615.0,156.2 615.5,156.8 616.1,156.1 616.6,151.3 617.1,152.2 617.6,149.6 618.2,146.9 618.7,143.7 619.3,136.8 619.9,132.1 620.4,122.5 621.0,113.6 621.5,113.7 622.1,114.0 622.6,115.4 623.2,118.7 623.7,116.5 624.3,111.0 624.9,109.2 625.4,105.7 626.0,101.1 626.5,102.0 627.0,105.5 627.5,112.2 628.0,106.7 628.5,103.0 629.0,97.1 629.5,90.9 630.0,87.5 630.5,93.0 631.0,97.2 631.5,99.7 632.0,102.3 632.5,105.6 633.0,110.2 633.5,115.5 634.0,121.9 634.5,124.6 635.0,136.4 635.5,148.9 636.0,159.9 636.5,154.3 637.1,153.6 637.6,150.9 638.2,145.2 638.7,141.7 639.1,146.2 639.6,150.5 640.0,159.0 640.5,153.9 641.0,151.4 641.5,144.8 642.0,139.5 642.5,138.6 643.0,141.4 643.5,144.5 644.0,145.6 644.5,146.6 645.0,149.2 645.5,143.6 646.1,141.5 646.6,138.3 647.1,134.0 647.6,132.4 648.2,128.7 648.7,126.1 649.3,127.8 649.9,129.4 650.5,131.4 651.1,134.5 651.7,138.5 652.2,135.6 652.7,132.1 653.2,128.6 653.7,122.8 654.2,122.2 654.8,117.1 655.4,112.8 655.9,111.3 656.5,110.0 657.0,106.0 657.6,109.7 658.2,111.2 658.8,116.6 659.4,118.0 660.0,120.5 660.5,116.1 661.0,113.2 661.5,109.7 662.0,103.5 662.5,98.0 663.0,97.5 663.5,94.1 664.0,93.9 664.5,95.2 665.0,94.7 665.5,90.2 666.1,91.6 666.6,89.0 667.1,90.1 667.6,86.8 668.2,84.0 668.7,83.9 669.1,95.8 669.6,104.4 670.0,115.9 670.5,110.9 671.0,104.5 671.5,98.9 672.0,94.8 672.5,89.8 673.1,92.7 673.7,97.1 674.2,101.7 674.8,103.9 675.4,104.7 676.0,107.4 676.5,104.9 677.1,103.2 677.6,98.5 678.2,94.6 678.7,92.4 679.2,92.3 679.8,91.0 680.3,92.8 680.9,95.1 681.4,94.0 682.0,94.5 682.5,94.9 683.1,98.3 683.7,101.8 684.2,102.8 684.8,106.3 685.4,107.0 686.0,112.6 686.6,111.6 687.2,111.8 687.8,114.0 688.4,112.2 689.0,111.4 689.5,110.1 690.0,106.2 690.5,100.0 691.0,95.1 691.6,97.1 692.1,96.8 692.7,101.1 693.3,100.2 693.9,100.8 694.4,102.2 695.0,103.8 695.5,101.7 696.1,100.6 696.6,99.1 697.1,96.3 697.6,92.4 698.2,94.0 698.7,91.9 699.2,90.2 699.8,92.1 700.4,95.1 700.9,98.0 701.5,95.5 702.0,95.2 702.5,94.9 703.0,93.2 703.5,93.5 704.0,92.0 704.5,87.8 705.0,91.0 705.5,95.1 706.0,100.3 706.5,101.2 707.0,104.6 707.5,102.0 708.0,102.8 708.5,99.4 709.0,101.6 709.5,99.6 710.0,105.9 710.5,109.9 711.0,116.1 711.5,117.1 712.1,119.2 712.6,118.5 713.2,117.2 713.7,119.8 714.3,124.3 714.9,128.5 715.4,131.8 716.0,136.7 716.6,140.6 717.2,139.6 717.8,141.9 718.3,144.0 718.9,144.5 719.5,147.4 720.1,146.2 720.7,144.2 721.3,141.6 721.9,137.0 722.5,133.3 723.0,137.9 723.5,141.3 724.0,144.2 724.5,150.3 725.0,152.1 725.5,159.9 726.0,167.0 726.5,170.2 727.0,178.2 727.5,183.0 727.9,174.3 728.3,166.3 728.7,158.0 729.3,159.6 729.9,159.6 730.4,161.5 731.0,162.1 731.5,163.3 732.1,167.6 732.6,171.7 733.2,174.9 733.7,178.9 734.3,182.8 734.9,188.1 735.4,191.2 736.0,193.8 736.5,199.7 737.0,206.3 737.5,212.9 738.0,207.0 738.5,203.3 739.0,197.0 739.5,193.2 740.1,191.4 740.7,187.9 741.3,187.5 741.9,184.7 742.5,183.0 743.1,180.8 743.7,178.5 744.2,175.4 744.8,171.2 745.4,170.9 746.0,169.5 746.6,166.3 747.1,164.1 747.7,160.7 748.3,160.7 748.9,158.4 749.4,154.3 750.0,153.9 750.5,151.8 751.0,146.1 751.5,144.5 752.0,139.6 752.5,134.3 753.1,136.9 753.7,136.9 754.3,139.2 754.9,140.0 755.5,139.0 756.0,142.5 756.5,146.7 757.0,148.3 757.5,150.7 758.1,152.4 758.7,151.6 759.2,151.7 759.8,152.4 760.4,153.9 761.0,152.2 761.6,149.6 762.1,150.4 762.7,149.0 763.3,146.5 763.9,147.1 764.4,146.4 765.0,143.8 765.6,147.9 766.2,150.5 766.8,152.8 767.4,153.5 768.0,154.4 768.6,156.7 769.2,157.9 769.8,157.0 770.4,157.4 771.0,158.1 771.5,160.0 772.1,164.4 772.6,167.3 773.2,169.6 773.7,171.3 774.2,174.3 774.8,175.7 775.3,178.8 775.9,179.0 776.4,181.1 777.0,182.2 777.5,184.6 778.0,183.9 778.5,180.9 779.0,178.7 779.5,178.6 780.0,176.5 780.5,179.9 781.0,181.5 781.5,183.4 782.0,187.3 782.5,191.7 783.0,188.2 783.5,183.1 784.0,178.3 784.5,172.7 785.0,168.9 785.5,170.7 786.1,174.8 786.6,174.1 787.1,178.0 787.6,178.6 788.2,179.7 788.7,180.5 789.2,181.1 789.8,177.4 790.4,176.4 790.9,174.8 791.5,171.9 792.0,169.9 792.6,175.3 793.1,178.0 793.7,180.4 794.3,183.5 794.9,183.3 795.4,187.0 796.0,190.2 796.6,185.7 797.2,183.2 797.8,182.5 798.4,178.1 799.0,176.4 799.5,172.3 800.1,171.4 800.6,168.2 801.1,166.6 801.6,164.1 802.2,163.8 802.7,161.8 803.2,160.2 803.8,159.9 804.3,158.3 804.9,158.8 805.4,156.3 806.0,156.1 806.5,155.7 807.1,155.7 807.7,154.7 808.2,155.2 808.8,157.7 809.4,157.3 810.0,159.7 810.6,160.2 811.1,162.8 811.7,163.8 812.3,164.3 812.9,163.7 813.4,162.7 814.0,165.0 814.5,168.0 815.1,170.9 815.6,170.3 816.1,171.1 816.6,175.6 817.2,177.5 817.7,178.3 818.2,176.8 818.8,172.6 819.3,171.3 819.9,169.9 820.4,167.8 821.0,163.9 821.5,161.1 822.1,162.8 822.7,164.4 823.3,162.0 823.9,160.6 824.5,160.5 825.0,165.2 825.6,166.7 826.1,168.9 826.6,173.0 827.2,174.4 827.7,174.9 828.2,177.2 828.8,176.2 829.3,177.7 829.9,180.6 830.4,180.5 831.0,180.7 831.5,183.4 832.1,183.6 832.7,186.3 833.2,184.3 833.8,186.4 834.4,185.9 835.0,187.5 835.6,185.0 836.1,183.9 836.7,181.3 837.3,178.9 837.9,178.0 838.4,177.9 839.0,175.1 839.5,175.5 840.1,177.2 840.6,177.4 841.1,179.1 841.6,181.4 842.2,183.0 842.7,184.5 843.2,183.3 843.8,181.8 844.3,181.1 844.9,182.0 845.4,181.6 846.0,182.8 846.5,181.9 847.1,184.6 847.7,185.6 848.2,186.8 848.8,188.2 849.4,188.5 850.0,189.0 850.6,189.6 851.1,189.8 851.7,193.3 852.3,194.3 852.9,194.0 853.4,197.7 854.0,198.6 854.5,200.8 855.0,202.4 855.5,203.3 856.0,208.1 856.5,208.4 857.0,206.7 857.5,207.1 858.0,203.1 858.5,201.9 859.0,200.2 859.5,200.9 860.1,204.4 860.6,204.8 861.1,204.5 861.6,206.9 862.2,207.0 862.7,210.4 863.2,211.1 863.8,211.1 864.3,207.8 864.9,208.4 865.4,207.0 866.0,206.7 866.5,205.6 867.1,208.6 867.7,211.2 868.2,215.8 868.8,217.7 869.4,223.3 870.0,224.3 870.5,224.0 871.1,219.8 871.6,216.3 872.2,215.7 872.7,213.1 873.2,213.2 873.8,211.8 874.3,211.3 874.9,208.8 875.4,209.5 876.0,208.7 876.5,209.5 877.1,208.0 877.7,208.5 878.2,211.6 878.8,214.3 879.4,214.4 880.0,216.2 880.6,217.0 881.1,217.3 881.7,218.4 882.3,220.0 882.9,219.3 883.4,220.7 884.0,223.3 884.5,223.1 885.1,224.4 885.6,224.7 886.1,225.7 886.6,227.5 887.2,229.1 887.7,230.9 888.3,232.1 888.9,233.4 889.4,235.8 890.0,237.5 890.5,239.5 891.1,242.4 891.6,244.6 892.2,245.5 892.7,246.7 893.3,251.9 893.9,257.7 894.4,264.3 895.0,269.6 895.5,271.5 896.0,271.5 896.5,271.1 896.9,264.1 897.3,256.0 897.7,250.6 898.3,248.7 898.9,245.3 899.4,243.5 900.0,239.9 900.6,237.6 901.1,235.6 901.7,233.7 902.3,233.1 902.9,231.9 903.4,230.6 904.0,226.9 904.5,227.1 905.0,225.4 905.5,223.6 906.0,222.6 906.5,221.1 907.1,221.8 907.7,223.7 908.2,226.1 908.8,228.2 909.4,230.5 910.0,230.0 910.6,232.4 911.1,233.4 911.7,234.1 912.3,235.7 912.9,234.2 913.4,236.2 914.0,237.9 914.5,233.0 915.0,231.1 915.5,229.8 916.0,225.4 916.5,224.0 917.1,223.5 917.7,221.1 918.2,218.6 918.8,217.3 919.4,218.1 920.0,216.4 920.6,216.7 921.1,217.8 921.7,220.5 922.3,219.7 922.9,219.3 923.4,222.8 924.0,222.6 924.5,222.9 925.1,225.3 925.6,224.2 926.1,223.5 926.6,226.2 927.2,225.3 927.7,225.3 928.2,228.7 928.8,228.5 929.3,231.4 929.9,231.4 930.4,232.2 931.0,233.0 931.5,235.1 932.1,236.1 932.7,236.4 933.2,237.2 933.8,237.2 934.4,239.3 935.0,240.7 935.6,241.7 936.1,243.1 936.7,242.1 937.3,243.1 937.9,244.1 938.4,245.2 939.0,248.8 939.5,249.9 940.1,250.7 940.6,250.2 941.1,249.0 941.6,249.9 942.2,249.4 942.7,252.1 943.2,251.7 943.8,252.0 944.3,254.6 944.9,253.7 945.4,256.0 946.0,255.5 946.5,256.8 947.1,256.2 947.7,258.9 948.2,258.9 948.8,259.3 949.4,260.8 950.0,261.8 950.5,260.6 951.1,259.7 951.6,260.6 952.2,259.2 952.7,261.0 953.1,250.1 953.6,239.3 954.0,229.5 954.5,213.8 955.0,199.2 955.5,194.3 956.0,188.3 956.5,182.1 957.0,193.5 957.5,205.8 958.0,218.7 958.5,214.2 959.0,211.3 959.5,206.9 960.0,201.7 960.5,199.8 961.1,200.6 961.6,198.6 962.2,196.5 962.7,195.3 963.3,194.1 963.9,190.4 964.5,187.4 965.0,191.6 965.5,194.7 966.0,200.5 966.5,205.1 967.0,207.2 967.5,208.9 968.0,210.9 968.5,213.6 969.0,208.7 969.5,207.6 970.0,202.0 970.5,202.4 971.1,199.1 971.6,199.2 972.2,196.3 972.7,193.7 973.3,197.8 973.9,202.2 974.5,205.7 975.0,206.2 975.6,206.9 976.1,204.0 976.6,204.3 976.8,205.4" fill="none" stroke="#727f87" stroke-width="5.2" stroke-linejoin="round" stroke-linecap="round"/>
<polyline points="87.5,367.6 88.9,367.4 90.4,367.5 91.8,367.4 93.2,367.3 94.7,367.4 96.1,367.6 97.5,367.6 99.0,367.6 100.4,367.3 101.8,367.3 103.3,367.2 104.7,367.0 106.1,366.9 107.6,366.9 109.0,367.2 110.5,366.6 112.0,365.8 113.5,365.1 115.0,364.1 116.5,363.3 118.0,362.7 119.5,362.0 121.0,361.4 122.5,360.6 123.8,360.9 125.0,361.6 126.2,362.2 127.5,362.7 128.9,362.3 130.3,362.1 131.7,361.7 133.1,361.8 134.4,361.6 135.8,361.3 137.2,360.9 138.6,360.8 140.0,360.5 141.5,360.3 143.0,360.1 144.5,359.7 146.0,359.3 147.5,359.1 149.0,358.8 150.5,358.4 152.0,358.1 153.5,358.1 155.0,357.5 156.4,357.2 157.9,357.2 159.3,356.9 160.7,356.8 162.1,356.6 163.6,356.3 165.0,356.4 166.4,355.9 167.9,355.7 169.3,355.4 170.7,355.3 172.1,355.0 173.6,354.8 175.0,354.8 176.4,354.6 177.9,354.6 179.3,354.8 180.7,354.4 182.1,354.3 183.6,354.3 185.0,354.5 186.4,354.5 187.9,354.3 189.3,354.2 190.7,354.1 192.1,354.2 193.6,354.0 195.0,354.2 196.5,354.6 198.0,354.9 199.5,355.1 201.0,355.4 202.5,355.3 204.0,355.0 205.4,355.1 206.9,354.9 208.3,354.5 209.8,354.5 211.2,354.2 212.7,354.0 214.2,353.6 215.6,353.2 217.1,353.1 218.5,352.7 220.0,352.6 221.5,352.7 222.9,352.4 224.4,352.1 225.9,351.9 227.4,351.8 228.8,351.9 230.3,351.7 231.8,351.5 233.2,351.3 234.7,351.5 236.2,351.2 237.6,351.0 239.1,350.7 240.6,350.5 242.1,350.4 243.5,350.5 245.0,350.2 246.4,350.3 247.9,350.5 249.3,350.6 250.7,351.0 252.1,350.9 253.6,351.1 255.0,351.3 256.5,351.9 258.0,352.9 259.5,353.5 261.0,354.1 262.4,354.1 263.9,353.9 265.3,353.9 266.7,353.8 268.2,354.1 269.6,354.1 271.0,353.9 272.5,353.6 273.9,353.5 275.3,353.5 276.8,353.4 278.2,353.4 279.6,353.6 281.1,353.3 282.5,353.2 284.0,353.5 285.4,353.5 286.9,353.6 288.3,353.4 289.8,353.6 291.2,353.5 292.7,353.6 294.2,353.6 295.6,353.5 297.1,353.2 298.5,353.2 300.0,353.5 301.4,353.4 302.9,353.2 304.3,352.7 305.7,352.5 307.1,352.3 308.6,352.1 310.0,351.9 311.5,351.7 312.9,351.7 314.4,351.7 315.9,351.5 317.4,351.7 318.8,351.8 320.3,351.4 321.8,351.6 323.2,351.7 324.7,351.6 326.2,351.2 327.6,351.5 329.1,351.2 330.6,351.5 332.1,351.4 333.5,351.1 335.0,351.0 336.5,351.1 337.9,351.1 339.4,351.1 340.9,351.1 342.4,350.7 343.8,350.4 345.3,350.7 346.8,350.3 348.2,350.5 349.7,350.2 351.2,350.3 352.6,350.3 354.1,350.3 355.6,350.1 357.1,350.1 358.5,349.7 360.0,349.8 361.5,349.5 362.9,349.5 364.4,349.3 365.9,349.0 367.4,348.8 368.8,348.4 370.3,348.2 371.8,348.2 373.2,348.1 374.7,348.1 376.2,347.9 377.6,347.5 379.1,347.3 380.6,347.3 382.1,347.1 383.5,346.7 385.0,346.8 386.5,346.6 387.9,346.0 389.4,345.9 390.9,345.6 392.4,345.5 393.8,345.1 395.3,344.7 396.8,344.5 398.2,344.5 399.7,343.9 401.2,343.6 402.6,343.5 404.1,343.4 405.6,343.1 407.1,342.7 408.5,342.6 410.0,342.4 411.5,341.9 412.9,342.0 414.4,341.6 415.9,341.4 417.4,341.4 418.8,341.1 420.3,341.1 421.8,340.7 423.2,340.7 424.7,340.3 426.2,340.1 427.6,340.0 429.1,339.8 430.6,339.7 432.1,339.7 433.5,339.5 435.0,339.0 436.5,338.9 437.9,338.9 439.4,338.8 440.9,338.8 442.4,338.6 443.8,338.3 445.3,338.2 446.8,338.4 448.2,338.1 449.7,338.1 451.2,338.2 452.6,337.9 454.1,337.8 455.6,337.6 457.1,337.4 458.5,337.5 460.0,337.2 461.5,337.3 462.9,337.0 464.4,337.0 465.9,337.0 467.4,336.8 468.8,336.6 470.3,336.3 471.8,336.4 473.2,336.2 474.7,336.2 476.2,335.9 477.6,335.7 479.1,335.6 480.6,335.8 482.1,335.5 483.5,335.6 485.0,335.4 486.5,335.3 487.9,335.0 489.4,335.0 490.9,334.6 492.4,334.5 493.8,334.6 495.3,334.2 496.8,334.2 498.2,333.9 499.7,333.7 501.2,333.4 502.6,333.2 504.1,333.4 505.6,333.4 507.1,333.2 508.5,333.1 510.0,333.0 511.5,332.5 512.9,332.4 514.4,332.3 515.9,332.2 517.4,332.2 518.8,332.1 520.3,332.0 521.8,331.5 523.2,331.5 524.7,331.4 526.2,331.4 527.6,331.2 529.1,331.1 530.6,330.8 532.1,330.9 533.5,330.6 535.0,330.5 536.5,330.4 538.0,330.1 539.5,329.7 541.0,329.4 542.5,329.2 544.0,329.1 545.5,329.1 547.0,328.9 548.5,328.5 550.0,328.2 551.4,327.9 552.9,327.4 554.3,326.9 555.7,326.4 557.1,326.0 558.6,325.7 560.0,325.5 561.4,325.9 562.9,326.3 564.3,327.0 565.7,327.4 567.1,327.6 568.6,328.0 570.0,328.8 571.4,329.1 572.8,329.2 574.2,329.2 575.6,329.1 576.9,329.1 578.3,329.2 579.7,329.3 581.1,329.7 582.5,329.9 584.0,329.8 585.5,329.4 587.0,329.3 588.5,329.2 590.0,329.3 591.5,329.0 593.0,329.1 594.5,329.0 596.0,328.9 597.5,328.9 599.0,328.6 600.5,328.5 602.0,328.2 603.5,328.1 605.0,327.9 606.5,327.9 608.0,327.8 609.5,327.6 611.0,327.9 612.5,327.6 614.0,327.7 615.4,327.6 616.9,327.4 618.4,327.3 619.9,327.3 621.3,327.1 622.8,326.9 624.3,326.7 625.7,326.6 627.2,326.5 628.7,326.3 630.1,326.1 631.6,325.8 633.1,325.9 634.6,325.7 636.0,325.4 637.5,325.2 639.0,325.3 640.5,325.0 642.0,324.8 643.5,324.8 645.0,324.7 646.5,324.4 648.0,324.2 649.5,324.0 651.0,323.7 652.5,323.8 654.0,323.4 655.5,323.5 657.0,323.1 658.5,322.9 660.0,323.0 661.5,322.9 663.0,322.5 664.5,322.4 666.0,322.2 667.5,322.1 669.0,321.8 670.5,321.8 672.0,321.8 673.5,321.5 675.0,321.4 676.5,321.3 678.0,321.0 679.5,320.9 681.0,320.8 682.5,320.6 684.0,320.2 685.5,320.2 687.0,320.3 688.5,319.9 690.0,319.9 691.5,319.9 693.0,319.6 694.5,319.2 696.0,319.2 697.5,319.0 699.0,319.1 700.5,318.9 702.0,318.6 703.5,318.7 705.0,318.5 706.5,318.2 708.0,318.3 709.5,318.2 711.0,318.1 712.5,318.0 714.0,317.8 715.5,317.7 717.0,317.5 718.5,317.4 720.0,317.5 721.5,317.2 723.0,316.9 724.5,317.0 726.0,316.9 727.5,316.8 729.0,316.7 730.5,316.5 732.0,316.3 733.5,316.2 735.0,316.4 736.5,316.4 738.0,316.3 739.5,315.9 741.0,316.1 742.5,316.1 744.0,315.8 745.5,315.5 747.0,315.7 748.5,315.6 750.0,315.5 751.5,315.1 752.9,315.3 754.4,314.9 755.8,315.0 757.3,314.8 758.8,314.7 760.2,314.9 761.7,314.8 763.2,314.8 764.6,314.5 766.1,314.3 767.5,314.3 769.0,314.0 770.5,313.9 772.0,314.1 773.5,313.9 775.0,313.8 776.5,313.4 778.0,313.4 779.5,313.3 781.0,313.1 782.5,312.9 784.0,312.6 785.4,312.8 786.8,313.4 788.1,313.9 789.5,314.0 790.9,314.4 792.2,314.6 793.6,315.0 795.0,315.5 796.4,315.1 797.9,315.0 799.3,314.7 800.8,314.6 802.2,314.3 803.6,314.1 805.1,314.0 806.5,314.1 808.0,313.7 809.4,313.7 810.9,313.3 812.4,313.5 813.9,313.1 815.3,312.8 816.8,312.6 818.3,312.8 819.7,312.6 821.2,312.6 822.7,312.3 824.1,311.9 825.6,311.7 827.1,311.6 828.6,311.7 830.0,311.3 831.5,311.1 833.0,311.2 834.4,310.8 835.9,311.0 837.4,310.7 838.9,310.6 840.3,310.6 841.8,310.6 843.3,310.1 844.7,310.3 846.2,309.9 847.7,310.0 849.1,309.6 850.6,309.7 852.1,309.4 853.6,309.3 855.0,309.1 856.5,309.0 858.0,309.0 859.4,309.2 860.9,309.0 862.4,308.8 863.9,309.0 865.3,308.6 866.8,308.4 868.3,308.6 869.7,308.7 871.2,308.5 872.7,308.5 874.1,308.0 875.6,308.2 877.1,308.1 878.6,308.0 880.0,308.0 881.5,307.6 883.0,307.4 884.4,307.1 885.9,307.1 887.4,307.0 888.9,306.8 890.3,306.6 891.8,306.6 893.3,306.5 894.7,306.3 896.2,305.8 897.7,305.6 899.1,305.4 900.6,305.2 902.1,305.2 903.6,304.9 905.0,304.9 906.5,304.6 908.0,304.5 909.4,304.5 910.9,304.5 912.4,304.1 913.9,303.9 915.3,304.0 916.8,303.6 918.3,303.3 919.7,303.2 921.2,303.3 922.7,303.2 924.1,303.2 925.6,302.9 927.1,302.5 928.6,302.3 930.0,302.4 931.5,302.2 933.0,302.0 934.4,302.0 935.9,302.0 937.4,301.9 938.9,301.9 940.3,301.7 941.8,301.5 943.3,301.8 944.7,301.8 946.2,301.6 947.7,301.4 949.1,301.3 950.6,301.4 952.1,301.5 953.6,301.4 955.0,301.5 956.5,301.3 957.9,301.0 959.3,301.0 960.7,301.0 962.1,300.9 963.4,300.9 964.8,300.5 966.2,300.5 967.6,300.6 969.0,300.3 970.5,299.7 971.9,299.3 973.4,298.9 974.8,298.5 976.2,298.0 976.8,297.7" fill="none" stroke="#17305f" stroke-width="4.9" stroke-linejoin="round" stroke-linecap="round"/>
<rect x="162.5" y="491.9" width="50" height="3.6" fill="#ae1017"/>
<rect x="162.5" y="523.2" width="50" height="3.6" fill="#727f87"/>
<rect x="583.7" y="492.4" width="50" height="2.6" fill="#8fc98e"/>
<rect x="583.7" y="523.0" width="50" height="4.2" fill="#17305f"/>
<text transform="translate(221 502.85) scale(1 1.07)" x="0" y="0" font-size="23.7" font-weight="bold" fill="#15181c" stroke="#15181c" stroke-width="0.33" font-family="&quot;Liberation Sans&quot;, &quot;Noto Sans CJK SC&quot;, sans-serif">偏债混合型基金指数</text>
<text transform="translate(221 534.45) scale(1 1.07)" x="0" y="0" font-size="23.7" font-weight="bold" fill="#15181c" stroke="#15181c" stroke-width="0.33" font-family="&quot;Liberation Sans&quot;, &quot;Noto Sans CJK SC&quot;, sans-serif">普通股票型基金指数</text>
<text transform="translate(641 502.85) scale(1 1.07)" x="0" y="0" font-size="23.7" font-weight="bold" fill="#15181c" stroke="#15181c" stroke-width="0.33" font-family="&quot;Liberation Sans&quot;, &quot;Noto Sans CJK SC&quot;, sans-serif">短期纯债型基金指数</text>
<text transform="translate(641 534.45) scale(1 1.07)" x="0" y="0" font-size="23.7" font-weight="bold" fill="#15181c" stroke="#15181c" stroke-width="0.33" font-family="&quot;Liberation Sans&quot;, &quot;Noto Sans CJK SC&quot;, sans-serif">中长期纯债型指数</text>
<text x="676.3" y="574.3" font-size="11.89" font-weight="500" fill="#23282e" stroke="#23282e" stroke-width="0.26" textLength="321" lengthAdjust="spacing" font-family="&quot;Liberation Sans&quot;, &quot;Noto Sans CJK SC&quot;, sans-serif">数据支持：勾股大数据 、wind，统计2015-1-1至2024-12-31</text>
<text x="218.8" y="591.6" font-size="11.88" font-weight="500" fill="#23282e" stroke="#23282e" stroke-width="0.26" textLength="778.5" lengthAdjust="spacing" font-family="&quot;Liberation Sans&quot;, &quot;Noto Sans CJK SC&quot;, sans-serif">业绩取偏债混合型基金指数(885003.WI)、短期纯债型基金指数(885062.WI)、中长期纯债型基金指数(885062.WI)、普通股票型基金指数(885000.WI)</text>
<line x1="13.2" y1="599.2" x2="1012" y2="599.2" stroke="#2f353b" stroke-width="1.3" stroke-dasharray="2.4 1.1"/>
<text transform="translate(22.8 629.5) skewX(-12)" x="0" y="0" font-size="11.15" font-weight="bold" fill="#2a3850" font-family="&quot;Liberation Sans&quot;, &quot;Noto Sans CJK SC&quot;, sans-serif">了解更多图文干货，请下载</text>
<text transform="translate(35.5 655) skewX(-12)" x="0" y="0" font-size="15" fill="#2b2f36" font-family="&quot;Liberation Sans&quot;, &quot;Noto Sans CJK SC&quot;, sans-serif">“</text>
<text transform="translate(42.6 655) skewX(-12)" x="0" y="0" font-size="15" fill="#2b2f36" font-family="&quot;Liberation Sans&quot;, &quot;Noto Sans CJK SC&quot;, sans-serif">格隆汇</text>
<text transform="translate(119.5 655) skewX(-12)" x="0" y="0" font-size="15" fill="#2b2f36" font-family="&quot;Liberation Sans&quot;, &quot;Noto Sans CJK SC&quot;, sans-serif">”</text>
<g transform="translate(915.5 622.5)">
<path d="M5.5 0 H24 Q28 0 28 4 V9 H22 V6 H7 Q6 6 6 7 V21 Q6 22 7 22 H19 V28 H5.5 Q0 28 0 22.5 V5.5 Q0 0 5.5 0 Z" fill="#1b2946"/>
<path d="M11.5 12.3 H28 V28 L22.5 23.5 V19.5 Z" fill="#3874b9"/>
</g>
<text transform="translate(949.3 642.9) scale(1 1.1)" x="0" y="0" font-size="19.6" font-weight="bold" fill="#1b2946" font-family="&quot;Liberation Sans&quot;, &quot;Noto Sans CJK SC&quot;, sans-serif">格隆汇</text>
<g transform="translate(950 661)" stroke="#8793a3" stroke-width="1.6" stroke-linejoin="round" paint-order="stroke" fill="#ffffff">
<path d="M4 0 H16 Q19.5 0 19.5 3.5 V6 H15 V4.5 H5.5 Q4.5 4.5 4.5 5.5 V13.5 Q4.5 14.5 5.5 14.5 H12 V19 H4 Q0 19 0 15 V4 Q0 0 4 0 Z"/>
<path d="M8 8.5 H19.5 V19 L15.5 16 V13 Z"/>
</g>
<text x="973.3" y="677.3" font-size="15.3" font-weight="bold" fill="#ffffff" stroke="#8793a3" stroke-width="1.45" stroke-linejoin="round" paint-order="stroke" font-family="&quot;Liberation Sans&quot;, &quot;Noto Sans CJK SC&quot;, sans-serif">格隆汇</text>
</svg>
<div class="wmt" style="left:411px;top:309px;font-size:5.5px;letter-spacing:0.4px">www.gelonghui.com</div>
<div class="wmt" style="left:524px;top:311px;font-size:9.5px;letter-spacing:2.75px">www.gogudata.com</div>
<div class="yl" style="top:59.30px">3.0</div>
<div class="yl" style="top:88.95px">2.8</div>
<div class="yl" style="top:118.60px">2.6</div>
<div class="yl" style="top:148.25px">2.4</div>
<div class="yl" style="top:177.90px">2.2</div>
<div class="yl" style="top:207.55px">2.0</div>
<div class="yl" style="top:237.20px">1.8</div>
<div class="yl" style="top:266.85px">1.6</div>
<div class="yl" style="top:296.50px">1.4</div>
<div class="yl" style="top:326.15px">1.2</div>
<div class="yl" style="top:354.60px">1.0</div>
<div class="xl" style="left:76.70px">2015-01</div>
<div class="xl" style="left:121.32px">2015-07</div>
<div class="xl" style="left:165.94px">2016-01</div>
<div class="xl" style="left:210.56px">2016-07</div>
<div class="xl" style="left:255.18px">2017-01</div>
<div class="xl" style="left:299.80px">2017-07</div>
<div class="xl" style="left:344.42px">2018-01</div>
<div class="xl" style="left:389.04px">2018-07</div>
<div class="xl" style="left:433.66px">2019-01</div>
<div class="xl" style="left:478.28px">2019-07</div>
<div class="xl" style="left:522.90px">2020-01</div>
<div class="xl" style="left:567.52px">2020-07</div>
<div class="xl" style="left:612.14px">2021-01</div>
<div class="xl" style="left:656.76px">2021-07</div>
<div class="xl" style="left:701.38px">2022-01</div>
<div class="xl" style="left:746.00px">2022-07</div>
<div class="xl" style="left:790.62px">2023-01</div>
<div class="xl" style="left:835.24px">2023-07</div>
<div class="xl" style="left:879.86px">2024-01</div>
<div class="xl" style="left:924.48px">2024-07</div>
<div class="ht" style="left:221.0px;top:482.0px;font-size:23.7px">偏债混合型基金指数</div>
<div class="ht" style="left:221.0px;top:513.6px;font-size:23.7px">普通股票型基金指数</div>
<div class="ht" style="left:641.0px;top:482.0px;font-size:23.7px">短期纯债型基金指数</div>
<div class="ht" style="left:641.0px;top:513.6px;font-size:23.7px">中长期纯债型指数</div>
<div class="ht" style="left:676.3px;top:563.3px;font-size:11.89px">数据支持：勾股大数据 、wind，统计2015-1-1至2024-12-31</div>
<div class="ht" style="left:218.8px;top:580.6px;font-size:11.88px">业绩取偏债混合型基金指数(885003.WI)、短期纯债型基金指数(885062.WI)、中长期纯债型基金指数(885062.WI)、普通股票型基金指数(885000.WI)</div>
<div class="ht" style="left:24.5px;top:619.0px;font-size:11px">了解更多图文干货，请下载</div>
<div class="app" style="left:89.6px;top:640.1px">App</div>
<div class="ht" style="left:29.0px;top:641.0px;font-size:15px">“格隆汇</div>
<div class="ht" style="left:120.0px;top:641.0px;font-size:15px">”</div>
<div class="ht" style="left:949.3px;top:625.0px;font-size:19.6px">格隆汇</div>
<div class="url" style="left:950px;top:645.7px">www.gelonghui.com</div>
<div class="ht" style="left:973.3px;top:662.0px;font-size:15.3px">格隆汇</div>
</body></html>
